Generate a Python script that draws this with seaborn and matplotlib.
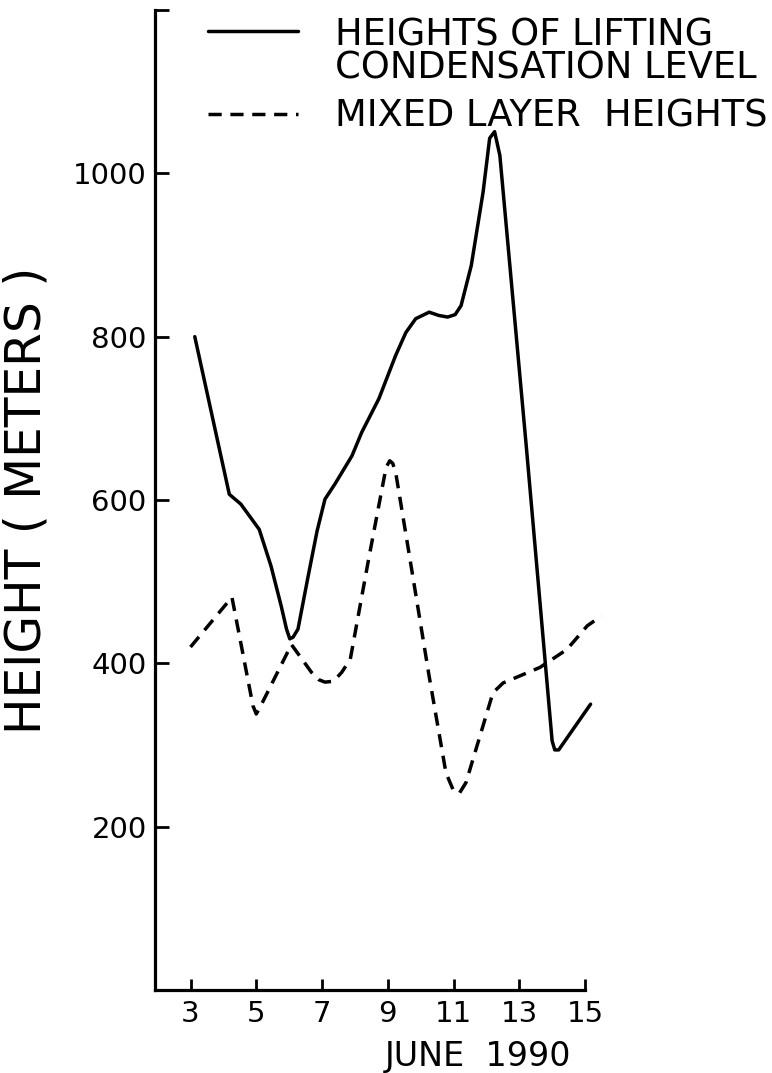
import numpy as np
import pandas as pd
import matplotlib
matplotlib.use("Agg")
import matplotlib.pyplot as plt
import seaborn as sns
from matplotlib.legend_handler import HandlerLine2D
from matplotlib.lines import Line2D

# ---- data ----
lcl_days = [3.13, 4.18, 4.53, 5.09, 5.45, 5.76, 5.92, 6.02, 6.12, 6.27, 6.58, 6.85,
            7.09, 7.40, 7.91, 8.21, 8.73, 9.24, 9.55, 9.85, 10.26, 10.55, 10.82,
            11.05, 11.23, 11.54, 11.90, 12.10, 12.25, 12.41, 13.22, 14.0, 14.08,
            14.20, 15.17]
lcl_heights = [800, 607, 595, 564, 519, 470, 442, 430, 432, 442, 507, 562,
               601, 620, 654, 683, 724, 777, 805, 822, 830, 826, 824,
               827, 838, 887, 977, 1043, 1051, 1022, 663, 305, 294,
               294, 350]

ml_days = [3.0, 4.26, 4.9, 5.0, 5.1, 6.07, 6.68, 6.9, 7.09, 7.35, 7.6, 7.86, 8.42,
           8.95, 9.06, 9.15, 9.24, 9.65, 10.26, 10.77, 11.0, 11.18, 11.38, 12.2,
           12.51, 13.63, 14.45, 15.07, 15.5]
ml_heights = [420, 481, 348, 338, 345, 423, 389, 380, 377, 378, 389, 405, 528,
              640, 648, 645, 634, 534, 384, 266, 244, 241, 254, 364,
              376, 395, 417, 446, 458]

x_ticks = [3, 5, 7, 9, 11, 13, 15]
y_ticks = [200, 400, 600, 800, 1000, 1200]
y_tick_labels = ["200", "400", "600", "800", "1000", ""]

label_lcl = "HEIGHTS OF LIFTING\nCONDENSATION LEVEL"
label_ml = "MIXED LAYER  HEIGHTS"
x_label = "JUNE  1990"
y_label = "HEIGHT ( METERS )"

# ---- styling ----
sns.set_theme(style="ticks")
plt.rcParams["font.family"] = ["DejaVu Sans"]
plt.rcParams["text.color"] = "black"
plt.rcParams["axes.labelcolor"] = "black"
plt.rcParams["xtick.color"] = "black"
plt.rcParams["ytick.color"] = "black"

fig = plt.figure(figsize=(7.72, 10.73), dpi=100)
ax = fig.add_axes([155 / 772, 83 / 1073, 430 / 772, 980 / 1073])

df_lcl = pd.DataFrame({"day": lcl_days, "height": lcl_heights})
df_ml = pd.DataFrame({"day": ml_days, "height": ml_heights})

lw = 2.5
sns.lineplot(data=df_lcl, x="day", y="height", ax=ax, color="black", lw=lw,
             estimator=None, sort=False, label=label_lcl)
sns.lineplot(data=df_ml, x="day", y="height", ax=ax, color="black", lw=lw,
             estimator=None, sort=False, label=label_ml)
lines = ax.get_lines()
lines[1].set_linestyle((0, (3.8, 2.5)))
for ln in lines:
    ln.set_clip_on(False)
    ln.set_solid_joinstyle("round")
    ln.set_solid_capstyle("round")
    ln.set_dash_joinstyle("round")

ax.set_xlim(1.92, 15.0)
ax.set_ylim(0, 1200)
ax.set_xticks(x_ticks)
ax.set_xticklabels([str(t) for t in x_ticks])
ax.set_yticks(y_ticks)
ax.set_yticklabels(y_tick_labels)

for side in ["top", "right"]:
    ax.spines[side].set_visible(False)
for side in ["left", "bottom"]:
    ax.spines[side].set_linewidth(2.3)
    ax.spines[side].set_color("black")

ax.tick_params(axis="both", direction="in", length=10, width=2, labelsize=21, colors="black")
ax.tick_params(axis="y", pad=6)
ax.tick_params(axis="x", pad=7, length=8)

ax.set_xlabel(x_label, fontsize=24)
ax.xaxis.set_label_coords(0.751, -0.051)
ax.xaxis.label.set_va("top")
ax.set_ylabel(y_label, fontsize=35)
ax.yaxis.set_label_coords(-0.243, 0.5)


class UpperHandler(HandlerLine2D):
    def __init__(self, offset=0.0, **kw):
        super().__init__(**kw)
        self.offset = offset

    def create_artists(self, legend, orig_handle, xdescent, ydescent, width,
                       height, fontsize, trans):
        artists = super().create_artists(legend, orig_handle, xdescent, ydescent,
                                         width, height, fontsize, trans)
        for a in artists:
            if isinstance(a, Line2D):
                a.set_ydata(np.asarray(a.get_ydata(), dtype=float) + self.offset)
        return artists


handles, labels = ax.get_legend_handles_labels()
if ax.get_legend() is not None:
    ax.get_legend().remove()
leg = fig.legend(handles, labels, loc="upper left",
                 bbox_to_anchor=(208 / 772, 1 - 16 / 1073),
                 frameon=False, fontsize=26.5, handlelength=2.45,
                 handletextpad=1.0, borderpad=0, borderaxespad=0,
                 labelspacing=0.3,
                 handler_map={handles[0]: UpperHandler(offset=15.5)})
for t in leg.get_texts():
    t.set_linespacing(0.88)
for lh in leg.get_lines():
    lh.set_linewidth(lw)

fig.savefig("out.png", dpi=100)
